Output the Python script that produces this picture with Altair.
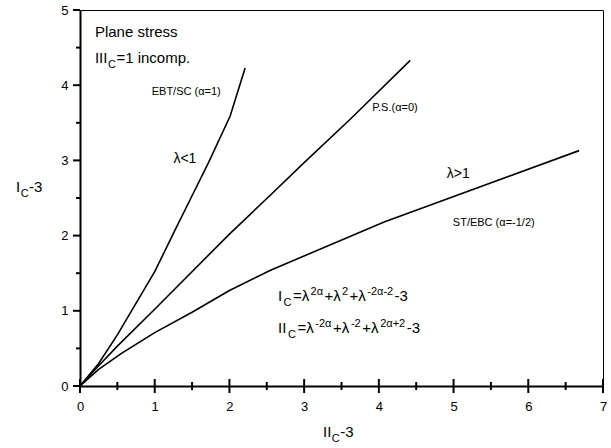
import altair as alt
import pandas as pd

FONT = "Liberation Sans"

# ---- curve data ----
x_ebt = [0, 0.25, 0.5, 1.0, 1.27, 1.47, 1.72, 2.01, 2.21]
y_ebt = [0, 0.30, 0.68, 1.52, 2.07, 2.47, 2.97, 3.59, 4.23]
x_ps = [0, 0.25, 0.5, 1.0, 2.0, 2.55, 3.0, 3.62, 4.42]
y_ps = [0, 0.27, 0.53, 1.02, 2.02, 2.54, 2.97, 3.55, 4.33]
x_st = [0, 0.25, 0.55, 1.0, 1.5, 2.0, 2.55, 4.07, 6.68]
y_st = [0, 0.22, 0.43, 0.71, 0.98, 1.27, 1.54, 2.18, 3.13]

x_tick_values = [0, 0.5, 1, 1.5, 2, 2.5, 3, 3.5, 4, 4.5, 5, 5.5, 6, 6.5, 7]
y_tick_values = [0, 0.5, 1, 1.5, 2, 2.5, 3, 3.5, 4, 4.5, 5]
x_label_values = [0, 1, 2, 3, 4, 5, 6, 7]
y_label_values = [0, 1, 2, 3, 4, 5]

W, H = 523, 376
PX_X = W / 7.0
PX_Y = H / 5.0

rows = []
for name, xs, ys in [("EBT", x_ebt, y_ebt), ("PS", x_ps, y_ps), ("ST", x_st, y_st)]:
    for i, (a, b) in enumerate(zip(xs, ys)):
        rows.append({"series": name, "x": a, "y": b, "o": i})
df = pd.DataFrame(rows)

xscale = alt.Scale(domain=[0, 7], nice=False, zero=False)
yscale = alt.Scale(domain=[0, 5], nice=False, zero=False)

common_axis = dict(ticks=False, grid=False, title=None, domainColor="black", domainWidth=2,
                   labelFont=FONT, labelFontSize=13, labelColor="black",
                   labelFlush=False, labelOverlap=False, format="d")

curves = alt.Chart(df).mark_line(color="black", strokeWidth=1.6).encode(
    x=alt.X("x:Q", scale=xscale,
            axis=alt.Axis(values=x_label_values, labelPadding=14, **common_axis)),
    y=alt.Y("y:Q", scale=yscale,
            axis=alt.Axis(values=y_label_values, labelPadding=12, **common_axis)),
    detail="series:N",
    order="o:Q",
)

def tick_len(v, major, minor):
    return major if float(v).is_integer() else minor

# x ticks cross the axis line; y ticks point outward
xt = pd.DataFrame({
    "tx": x_tick_values,
    "ty": [-tick_len(v, 7, 4) / PX_Y for v in x_tick_values],
    "ty2": [tick_len(v, 7, 4) / PX_Y for v in x_tick_values],
})
yt = pd.DataFrame({
    "uy": y_tick_values,
    "ux": [-tick_len(v, 7, 4) / PX_X for v in y_tick_values],
    "ux2": [0.0] * len(y_tick_values),
})
x_ticks = alt.Chart(xt).mark_rule(color="black", strokeWidth=2).encode(
    x=alt.X("tx:Q", scale=xscale), x2="tx:Q",
    y=alt.Y("ty:Q", scale=yscale), y2="ty2:Q",
)
y_ticks = alt.Chart(yt).mark_rule(color="black", strokeWidth=2).encode(
    y=alt.Y("uy:Q", scale=yscale), y2="uy:Q",
    x=alt.X("ux:Q", scale=xscale), x2="ux2:Q",
)

# ---- text helpers ----
CW = {'I': 278, 'C': 722, '=': 584, '+': 584, '-': 333, '2': 556, '3': 556, '1': 556,
      'λ': 500, 'α': 578, ' ': 278}
SIZES = {"n": 15, "sub": 11, "sup": 11}
DY = {"n": 0, "sub": 5, "sup": -6}

def width(s, size):
    return sum(CW.get(c, 556) for c in s) * size / 1000.0

def text_data(s, x, y, size, dx=0, dy=0):
    return alt.Chart(pd.DataFrame({"t": [s]})).mark_text(
        font=FONT, fontSize=size, color="black", align="left", baseline="alphabetic",
        dx=dx, dy=dy).encode(x=alt.datum(x), y=alt.datum(y), text="t:N")

def text_px(s, px, py, size, dx=0, dy=0):
    return alt.Chart(pd.DataFrame({"t": [s]})).mark_text(
        font=FONT, fontSize=size, color="black", align="left", baseline="alphabetic",
        dx=dx, dy=dy).encode(x=alt.value(px), y=alt.value(py), text="t:N")

def rich(segs, x, y, gap=0.8, px=False, sizes=SIZES):
    layers, off = [], 0.0
    for s, role in segs:
        sz = sizes[role]
        if px:
            layers.append(text_px(s, x, y, sz, dx=off, dy=DY[role]))
        else:
            layers.append(text_data(s, x, y, sz, dx=off, dy=DY[role]))
        off += width(s, sz) + gap
    return layers

texts = []
texts.append(text_data("Plane stress", 0.2, 4.64, 15))
texts += rich([("III", "n"), ("C", "sub"), ("=1 incomp.", "n")], 0.2, 4.30, gap=0.5)
texts.append(text_data("EBT/SC (α=1)", 0.96, 3.87, 11))
texts.append(text_data("λ<1", 1.25, 2.97, 14))
texts.append(text_data("P.S.(α=0)", 3.91, 3.66, 11))
texts.append(text_data("λ>1", 4.91, 2.77, 14))
texts.append(text_data("ST/EBC (α=-1/2)", 4.99, 2.13, 11))
texts += rich([("I", "n"), ("C", "sub"), ("=λ", "n"), ("2α", "sup"), ("+λ", "n"), ("2", "sup"),
               ("+λ", "n"), ("-2α-2", "sup"), ("-3", "n")], 2.65, 1.13, gap=1.4)
texts += rich([("II", "n"), ("C", "sub"), ("=λ", "n"), ("-2α", "sup"), ("+λ", "n"), ("-2", "sup"),
               ("+λ", "n"), ("2α+2", "sup"), ("-3", "n")], 2.65, 0.70, gap=1.6)
# axis titles
texts += rich([("I", "n"), ("C", "sub"), ("-3", "n")], -64, 182, gap=0.5, px=True)
texts += rich([("II", "n"), ("C", "sub"), ("-3", "n")], 243, 427, gap=0.5, px=True)

chart = alt.layer(curves, x_ticks, y_ticks, *texts).properties(
    width=W, height=H,
    padding={"left": 80, "top": 10, "right": 8, "bottom": 62},
    autosize=alt.AutoSizeParams(type="none"),
    background="white",
).configure_view(stroke="black", strokeWidth=1)

chart.save("out.html", embed_options={"renderer": "svg", "actions": False})
